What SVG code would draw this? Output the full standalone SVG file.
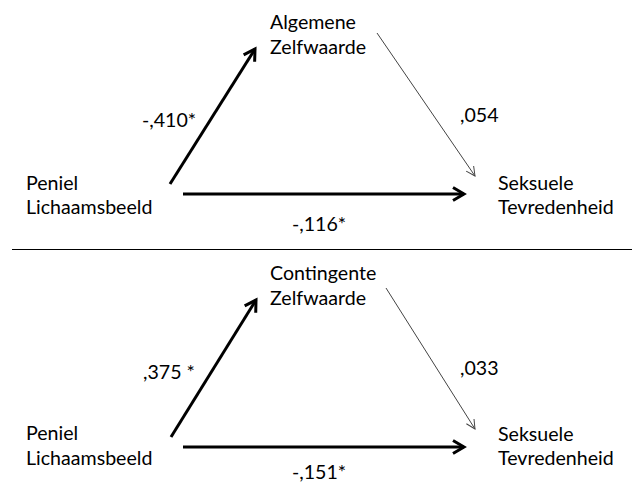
<svg xmlns="http://www.w3.org/2000/svg" width="633" height="489" viewBox="0 0 633 489">
<defs>
<style>
text{font-family:Lato,"Open Sans","Liberation Sans",sans-serif;font-size:19.6px;fill:#000}
.thick{stroke:#000;stroke-width:3;fill:none}
.thin{stroke:#444;stroke-width:1;fill:none}
</style>
<marker id="openBig" markerUnits="userSpaceOnUse" viewBox="0 0 16 16" refX="13" refY="8" markerWidth="16" markerHeight="16" orient="auto">
<path d="M2,1.5 L13,8 L2,14.5" fill="none" stroke="#000" stroke-width="3" stroke-linejoin="miter"/>
</marker>
<marker id="openSmall" markerUnits="userSpaceOnUse" viewBox="0 0 12 12" refX="10" refY="6" markerWidth="12" markerHeight="12" orient="auto">
<path d="M1,1.5 L10,6 L1,10.5" fill="none" stroke="#444" stroke-width="1"/>
</marker>
</defs>
<rect width="633" height="489" fill="#fff"/>
<g id="connectors">
<line class="thick" x1="170" y1="184" x2="255" y2="49" marker-end="url(#openBig)"/>
<line class="thin" x1="377" y1="33" x2="475" y2="176" marker-end="url(#openSmall)"/>
<line class="thick" x1="183" y1="194" x2="464" y2="194" marker-end="url(#openBig)"/>
<line class="thick" x1="171" y1="437" x2="256" y2="300" marker-end="url(#openBig)"/>
<line class="thin" x1="386" y1="288" x2="475" y2="429" marker-end="url(#openSmall)"/>
<line class="thick" x1="183" y1="447" x2="464" y2="447" marker-end="url(#openBig)"/>
<line x1="12" y1="249.5" x2="632" y2="249.5" stroke="#000" stroke-width="1"/>
</g>
<g id="top-mediator"><text x="270" y="29">Algemene</text><text x="270" y="54">Zelfwaarde</text></g>
<g id="top-predictor"><text x="26" y="190">Peniel</text><text x="26" y="214">Lichaamsbeeld</text></g>
<g id="top-outcome"><text x="498" y="190">Seksuele</text><text x="498" y="214">Tevredenheid</text></g>
<g id="top-labels">
<text x="142" y="127">-,410*</text>
<text x="460" y="122">,054</text>
<text x="292" y="231">-,116*</text>
</g>
<g id="bottom-mediator"><text x="270" y="280">Contingente</text><text x="270" y="305">Zelfwaarde</text></g>
<g id="bottom-predictor"><text x="26" y="440">Peniel</text><text x="26" y="465">Lichaamsbeeld</text></g>
<g id="bottom-outcome"><text x="498" y="441">Seksuele</text><text x="498" y="465">Tevredenheid</text></g>
<g id="bottom-labels">
<text x="143" y="379">,375 *</text>
<text x="460" y="375">,033</text>
<text x="292" y="479">-,151*</text>
</g>
</svg>
